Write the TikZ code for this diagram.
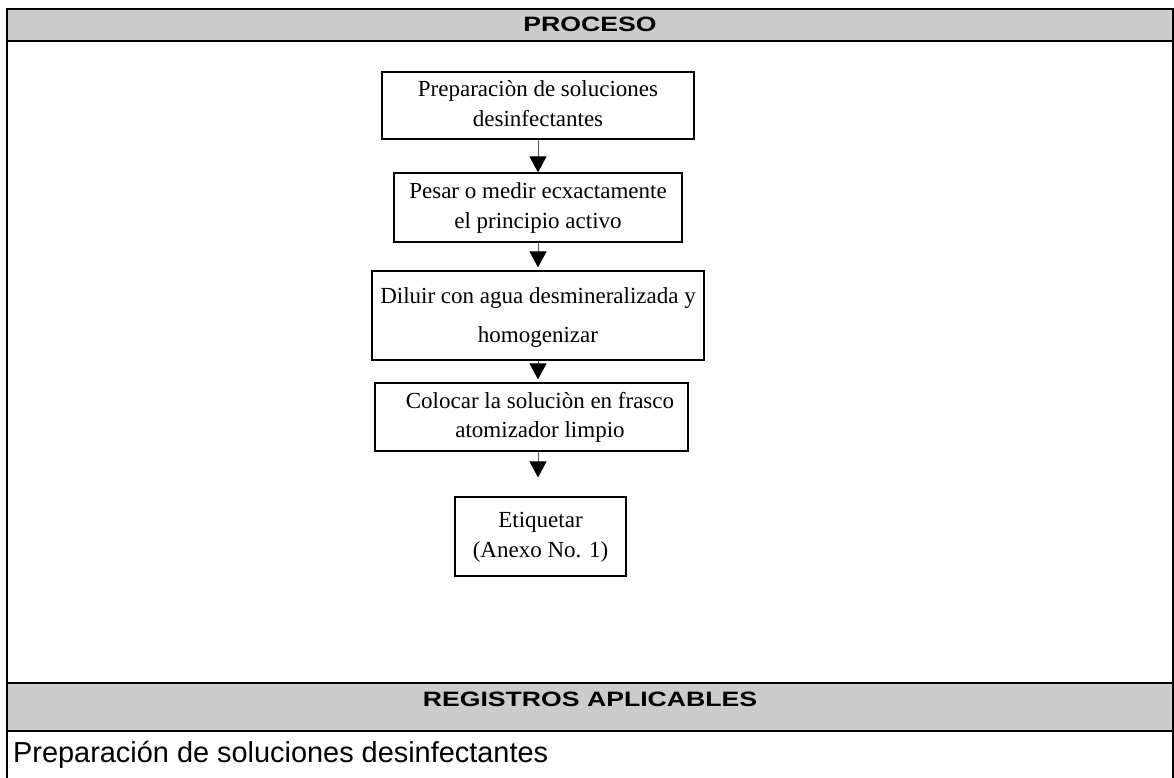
\documentclass[tikz,border=0pt]{standalone}
\usepackage{fontspec}
\usepackage{graphicx}
\setmainfont{Liberation Serif}
\newfontfamily\hdrfont{Liberation Sans}
\usetikzlibrary{arrows.meta}
\definecolor{bandgray}{HTML}{CCCCCC}

% Step text: serif, lines centred, given line spacing
\newcommand\steplines[2]{%
  {\fontsize{23pt}{#1}\selectfont
    \begin{tabular}{@{}c@{}}#2\end{tabular}}}
% Band titles: bold sans, set wide
\newcommand\bandtitle[1]{%
  \scalebox{1.28}[1]{\hdrfont\bfseries\fontsize{20.8pt}{24pt}\selectfont #1}}

\begin{document}
\begin{tikzpicture}[x=1pt,y=-1pt,
  stepbox/.style={draw=black, line width=1.2pt, rectangle, inner sep=0pt},
  flow/.style={draw=black!65, line width=1pt,
    -{Triangle[width=17pt,length=16pt,color=black,fill=black]}},
  rule/.style={draw=black, line width=2pt}]
\useasboundingbox (0,0) rectangle (1174,778);

% table bands and rules
\fill[bandgray] (7.3,9) rectangle (1172.5,41.5);
\fill[bandgray] (7.3,683) rectangle (1172.5,731);
\draw[rule] (7.3,778) -- (7.3,9) -- (1172.5,9) -- (1172.5,778);
\draw[rule] (7.3,41.5) -- (1172.5,41.5);
\draw[rule] (7.3,683) -- (1172.5,683);
\draw[rule] (7.3,731) -- (1172.5,731);

% band titles
\node[anchor=base, inner sep=0pt] (proceso) at (590,31.5) {\bandtitle{PROCESO}};
\node[anchor=base, inner sep=0pt] (registros) at (590,706) {\bandtitle{REGISTROS APLICABLES}};
\node[anchor=base west, inner sep=0pt] (registro1) at (13,762)
  {\hdrfont\fontsize{28.9pt}{34pt}\selectfont Preparación de soluciones desinfectantes};

% process steps
\node[stepbox, minimum width=312pt, minimum height=67pt] (b1) at (538,105.5)
  {\steplines{30pt}{Preparaciòn de soluciones\\desinfectantes}};
\node[stepbox, minimum width=288pt, minimum height=69pt] (b2) at (538,207.5)
  {\steplines{30pt}{Pesar o medir ecxactamente\\el principio activo}};
\node[stepbox, minimum width=332pt, minimum height=89pt] (b3) at (538,315.5)
  {\steplines{39pt}{Diluir con agua desmineralizada y\\homogenizar}};
\node[stepbox, minimum width=313pt, minimum height=68pt] (b4) at (531.5,417)
  {\hspace*{17pt}\steplines{29pt}{Colocar la soluciòn en frasco\\atomizador limpio}};
\node[stepbox, minimum width=171pt, minimum height=79pt] (b5) at (540.5,536.5)
  {\steplines{30pt}{Etiquetar\\(Anexo No. 1)}};

% connectors
\draw[flow] (b1.south) -- (b2.north);
\draw[flow, shorten >=3pt] (b2.south) -- (b3.north);
\draw[flow, shorten >=3pt] (b3.south) -- (b3.south |- b4.north);
\draw[flow, shorten >=19pt] (b4.south -| b3.south) -- (b5.north -| b3.south);
\end{tikzpicture}
\end{document}
